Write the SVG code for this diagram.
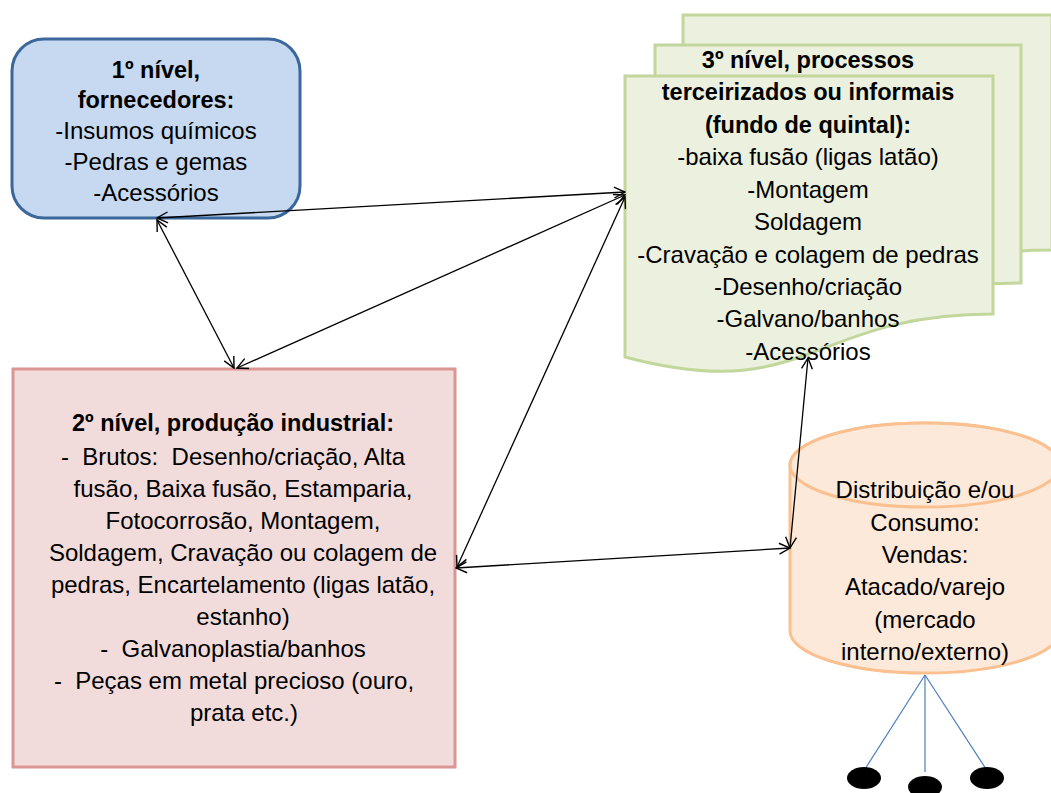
<svg xmlns="http://www.w3.org/2000/svg" width="1051" height="793" viewBox="0 0 1051 793">
<style>
text{font-family:"Liberation Sans",Arial,sans-serif;font-size:24px;fill:#000;text-anchor:middle}
.b{font-weight:bold;font-size:23.5px}
.conn{stroke:#000;stroke-width:1.3;fill:none;marker-start:url(#ah);marker-end:url(#ah)}
.leg{stroke:#4a7ebb;stroke-width:1.2}
.page{fill:#ebf1de;stroke:#c3d69b;stroke-width:3}
</style>
<defs>
<marker id="ah" viewBox="0 0 12 12" refX="11" refY="6" markerWidth="13" markerHeight="13" markerUnits="userSpaceOnUse" orient="auto-start-reverse">
<path d="M1,1 L11,6 L1,11" fill="none" stroke="#000" stroke-width="1.3"/>
</marker>
</defs>
<rect width="1051" height="793" fill="#fff"/>
<g id="n3">
<path class="page" d="M683,15 H1052 V250 C866,250 866,340 683,306 Z"/>
<path class="page" d="M655,45 H1021 V283 C838,283 838,373 655,339 Z"/>
<path class="page" d="M625,76 H993 V314 C809,314 809,406 625,357 Z"/>
<text class="b" x="808" y="68">3º nível, processos</text>
<text class="b" x="808" y="100">terceirizados ou informais</text>
<text class="b" x="808" y="133">(fundo de quintal):</text>
<text x="808" y="165">-baixa fusão (ligas latão)</text>
<text x="808" y="198">-Montagem</text>
<text x="808" y="230">Soldagem</text>
<text x="808" y="263">-Cravação e colagem de pedras</text>
<text x="808" y="295">-Desenho/criação</text>
<text x="808" y="327">-Galvano/banhos</text>
<text x="808" y="360">-Acessórios</text>
</g>
<g id="n1">
<rect x="12" y="39" width="288" height="179" rx="32" fill="#c6d9f1" stroke="#3c679b" stroke-width="3"/>
<text class="b" x="156" y="78">1º nível,</text>
<text class="b" x="156" y="108">fornecedores:</text>
<text x="156" y="139">-Insumos químicos</text>
<text x="156" y="170">-Pedras e gemas</text>
<text x="156" y="201">-Acessórios</text>
</g>
<g id="n2">
<rect x="13" y="369" width="442" height="398" fill="#f2dcdb" stroke="#d99694" stroke-width="3"/>
<text class="b" x="233" y="431">2º nível, produção industrial:</text>
<text x="233" y="465" xml:space="preserve">-  Brutos:  Desenho/criação, Alta</text>
<text x="243" y="497">fusão, Baixa fusão, Estamparia,</text>
<text x="243" y="529">Fotocorrosão, Montagem,</text>
<text x="243" y="561">Soldagem, Cravação ou colagem de</text>
<text x="243" y="593">pedras, Encartelamento (ligas latão,</text>
<text x="243" y="625">estanho)</text>
<text x="233" y="657" xml:space="preserve">-  Galvanoplastia/banhos</text>
<text x="234" y="689" xml:space="preserve">-  Peças em metal precioso (ouro,</text>
<text x="244" y="721">prata etc.)</text>
</g>
<g id="n4">
<path d="M790,465 V631 A135,42 0 0 0 1060,631 V465 A135,42 0 0 0 790,465 Z" fill="#fde9d9" stroke="#fac090" stroke-width="3"/>
<ellipse cx="925" cy="465" rx="135" ry="42" fill="#fde9d9" stroke="#fac090" stroke-width="3"/>
<text x="925" y="498">Distribuição e/ou</text>
<text x="925" y="531">Consumo:</text>
<text x="925" y="563">Vendas:</text>
<text x="925" y="595">Atacado/varejo</text>
<text x="925" y="628">(mercado</text>
<text x="925" y="660">interno/externo)</text>
</g>
<g id="consumers">
<line class="leg" x1="925" y1="675" x2="865" y2="769"/>
<line class="leg" x1="925" y1="675" x2="925" y2="772"/>
<line class="leg" x1="925" y1="675" x2="986" y2="769"/>
<ellipse cx="864" cy="778" rx="17" ry="11" fill="#000"/>
<ellipse cx="925" cy="787" rx="17" ry="11" fill="#000"/>
<ellipse cx="987" cy="778" rx="17" ry="11" fill="#000"/>
</g>
<g id="connectors">
<line class="conn" x1="157" y1="218" x2="625" y2="192"/>
<line class="conn" x1="157" y1="220" x2="234" y2="368"/>
<line class="conn" x1="237" y1="368" x2="625" y2="195"/>
<line class="conn" x1="457" y1="567" x2="625" y2="197"/>
<line class="conn" x1="456" y1="568" x2="790" y2="548"/>
<line class="conn" x1="790" y1="548" x2="808" y2="358"/>
</g>
</svg>
